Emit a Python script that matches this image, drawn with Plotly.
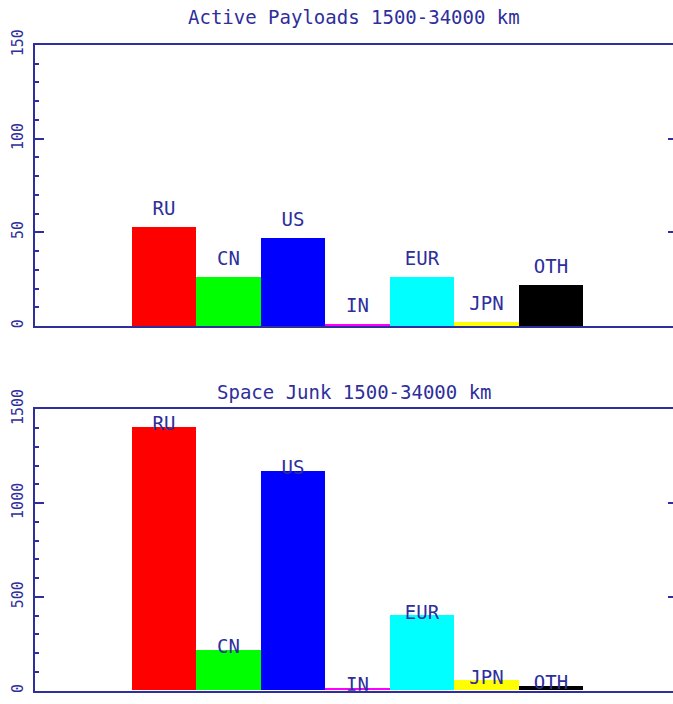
import plotly.graph_objects as go

# ---- data ----
categories = ["RU", "CN", "US", "IN", "EUR", "JPN", "OTH"]
bar_colors = ["#ff0000", "#00ff00", "#0000ff", "#ff00ff", "#00ffff", "#ffff00", "#000000"]
active_payloads = [53, 26, 47, 1, 26, 2, 22]
space_junk = [1405, 215, 1170, 13, 400, 53, 23]
payload_ticks = [0, 50, 100, 150]
junk_ticks = [0, 500, 1000, 1500]
title_top = "Active Payloads 1500-34000 km"
title_bottom = "Space Junk 1500-34000 km"

NAVY = "#2e2e9c"
FONT = "DejaVu Sans Mono"
W, H = 673, 704

def py(page_y):                   # page pixel row -> paper fraction
    return 1 - page_y / H

def px(page_x):
    return page_x / W

# the reference plot frame runs past the right edge of the picture (right axis at ~678 px)
x_dom = [px(35), 1.0]
bar_px = 64.5
x_range = [-2, -2 + (W - 35) / bar_px]
top_dom = [py(326), py(45)]
bot_dom = [py(690.7), py(409.3)]
label_offset = 9

fig = go.Figure()

fig.add_trace(go.Bar(x=categories, y=active_payloads, marker=dict(color=bar_colors, line=dict(width=0)),
                     width=1, xaxis="x", yaxis="y", showlegend=False, hoverinfo="skip"))
fig.add_trace(go.Bar(x=categories, y=space_junk, marker=dict(color=bar_colors, line=dict(width=0)),
                     width=1, xaxis="x2", yaxis="y2", showlegend=False, hoverinfo="skip"))

fig.add_trace(go.Scatter(x=categories, y=[v + label_offset for v in active_payloads], mode="text",
                         text=categories, textposition="middle center",
                         textfont=dict(family=FONT, size=19, color=NAVY),
                         xaxis="x", yaxis="y3", showlegend=False, hoverinfo="skip"))
fig.add_trace(go.Scatter(x=categories, y=[v + label_offset for v in space_junk], mode="text",
                         text=categories, textposition="middle center",
                         textfont=dict(family=FONT, size=19, color=NAVY),
                         xaxis="x2", yaxis="y4", showlegend=False, hoverinfo="skip"))

xcommon = dict(domain=x_dom, range=x_range, showticklabels=False, ticks="", showgrid=False,
               zeroline=False, showline=True, mirror=True, linecolor=NAVY, linewidth=2,
               type="category", fixedrange=True, automargin=False)

def ycommon(dom, ticks, minor_dt, anchor):
    return dict(domain=dom, range=[ticks[0], ticks[-1]], tickvals=ticks, ticktext=[str(t) for t in ticks],
                tickangle=-90, ticks="inside", ticklen=9, tickwidth=1.5, tickcolor=NAVY,
                showline=True, linecolor=NAVY, linewidth=2, showgrid=False, zeroline=False,
                tickfont=dict(family=FONT, size=15, color=NAVY), ticklabelstandoff=4,
                minor=dict(ticks="inside", ticklen=4, tickwidth=1.5, tickcolor=NAVY, dtick=minor_dt,
                           showgrid=False),
                anchor=anchor, fixedrange=True, automargin=False)

def yright(over, ticks, anchor):
    return dict(overlaying=over, side="right", anchor=anchor, range=[ticks[0], ticks[-1]],
                tickvals=ticks[1:-1], ticks="inside", ticklen=5, tickwidth=1.5, tickcolor=NAVY,
                showticklabels=False, showline=False, showgrid=False, zeroline=False,
                fixedrange=True, automargin=False)

fig.update_layout(
    width=W, height=H,
    margin=dict(l=0, r=0, t=0, b=0, pad=0, autoexpand=False),
    paper_bgcolor="white", plot_bgcolor="white",
    bargap=0,
    xaxis=dict(xcommon, anchor="y"),
    xaxis2=dict(xcommon, anchor="y2"),
    yaxis=ycommon(top_dom, payload_ticks, 10, "x"),
    yaxis2=ycommon(bot_dom, junk_ticks, 100, "x2"),
    yaxis3=yright("y", payload_ticks, "x"),
    yaxis4=yright("y2", junk_ticks, "x2"),
    annotations=[
        dict(text=title_top, xref="x domain", yref="paper", x=0.5, y=py(17),
             xanchor="center", yanchor="middle", showarrow=False,
             font=dict(family=FONT, size=19, color=NAVY)),
        dict(text=title_bottom, xref="x2 domain", yref="paper", x=0.5, y=py(392),
             xanchor="center", yanchor="middle", showarrow=False,
             font=dict(family=FONT, size=19, color=NAVY)),
    ],
)

fig.write_html("out.html",
               config={"displayModeBar": False},
               post_script="document.body.style.margin='0';document.body.style.overflow='hidden';")
